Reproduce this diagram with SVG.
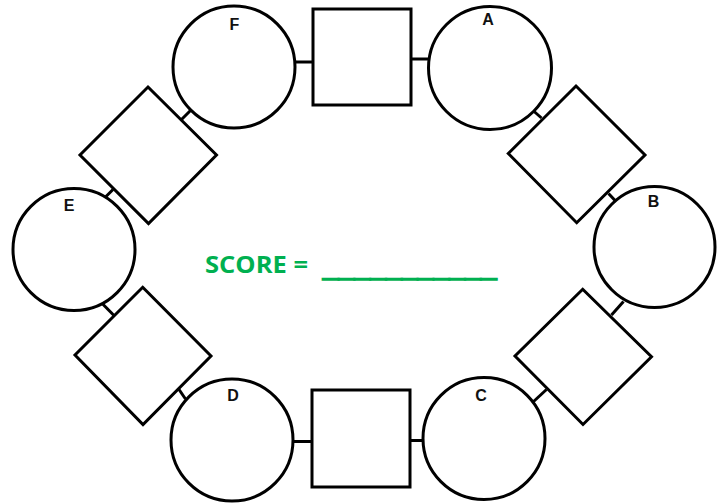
<svg xmlns="http://www.w3.org/2000/svg" width="726" height="504" viewBox="0 0 726 504">
<style>
.shape{fill:#fff;stroke:#000;stroke-width:3}
.conn{stroke:#000;stroke-width:3;fill:none}
.lbl{font-family:"Liberation Sans",Arial,sans-serif;font-weight:bold;font-size:16px;fill:#111;text-anchor:middle}
.score{font-family:"Open Sans","Liberation Sans",sans-serif;font-weight:bold;font-size:23px;fill:#00B050}
</style>
<rect width="726" height="504" fill="#fff"/>
<g id="connectors">
<line class="conn" x1="295" y1="62" x2="313" y2="62"/>
<line class="conn" x1="411" y1="59" x2="428.5" y2="59"/>
<line class="conn" x1="533" y1="110.5" x2="541.5" y2="118"/>
<line class="conn" x1="608.5" y1="193.5" x2="616" y2="201.5"/>
<line class="conn" x1="611.5" y1="315" x2="623.5" y2="301.5"/>
<line class="conn" x1="532.5" y1="402.5" x2="546.5" y2="389.5"/>
<line class="conn" x1="410" y1="440.5" x2="423" y2="440.5"/>
<line class="conn" x1="293" y1="441.5" x2="312" y2="441.5"/>
<line class="conn" x1="178" y1="388" x2="185.5" y2="399"/>
<line class="conn" x1="101.7" y1="303" x2="114" y2="315.5"/>
<line class="conn" x1="103" y1="199.5" x2="113" y2="189.5"/>
<line class="conn" x1="181" y1="120" x2="191" y2="110"/>
</g>
<g id="node-F"><circle class="shape" cx="234" cy="67" r="61"/><text class="lbl" x="234.5" y="30">F</text></g>
<g id="node-top-square"><rect class="shape" x="313" y="9" width="98" height="96"/></g>
<g id="node-A"><circle class="shape" cx="490" cy="68" r="61.5"/><text class="lbl" x="488" y="24.5">A</text></g>
<g id="node-ur-diamond"><polygon class="shape" points="576,86 645,155 576.7,222.7 508.3,153.5"/></g>
<g id="node-B"><circle class="shape" cx="654.5" cy="247" r="60.5"/><text class="lbl" x="653.5" y="206.5">B</text></g>
<g id="node-lr-diamond"><polygon class="shape" points="582.7,289.3 651.5,356.7 583,424.5 515,356"/></g>
<g id="node-C"><circle class="shape" cx="484" cy="438.5" r="61"/><text class="lbl" x="481" y="401">C</text></g>
<g id="node-bottom-square"><rect class="shape" x="312" y="390" width="98" height="97"/></g>
<g id="node-D"><circle class="shape" cx="232" cy="440" r="61"/><text class="lbl" x="233" y="401">D</text></g>
<g id="node-ll-diamond"><polygon class="shape" points="142.7,287.3 211,356 143,424.5 75,355"/></g>
<g id="node-E"><circle class="shape" cx="74" cy="249.5" r="61"/><text class="lbl" x="69" y="211">E</text></g>
<g id="node-ul-diamond"><polygon class="shape" points="148,87 216.5,155 148.5,223.5 80,155"/></g>
<g id="score">
<text class="score" x="205" y="272.7" textLength="103" lengthAdjust="spacingAndGlyphs">SCORE =</text>
<text class="score" x="322.7" y="275.5" textLength="174" lengthAdjust="spacingAndGlyphs" stroke="#00B050" stroke-width="1.3">___________</text>
</g>
</svg>
